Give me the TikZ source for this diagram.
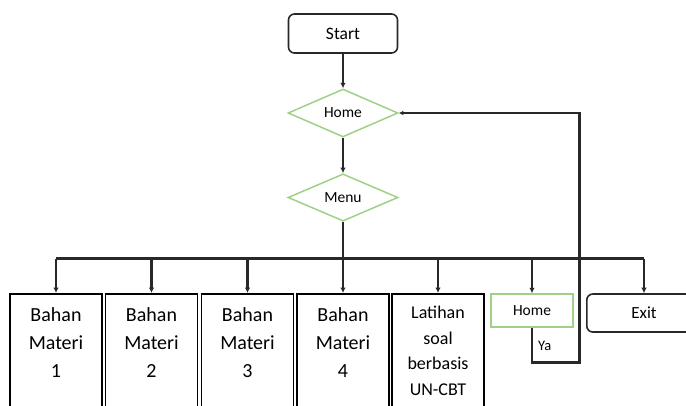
\documentclass[tikz,border=0pt]{standalone}
\usepackage{fontspec}
\setmainfont{Carlito}
\usetikzlibrary{shapes.geometric,arrows.meta}
\definecolor{ln}{RGB}{40,40,40}
\definecolor{gr}{RGB}{160,208,135}
\begin{document}
\begin{tikzpicture}[x=1pt,y=-1pt,
  conn/.style={draw=ln,line width=2.1pt,-{Latex[length=5.5pt,width=5.5pt]}},
  plain/.style={draw=ln,line width=2.1pt},
  term/.style={draw=ln,line width=1.6pt,rounded corners=6pt,minimum width=109pt,minimum height=39pt,inner sep=0pt,font=\fontsize{17.5}{19}\selectfont},
  dec/.style={diamond,draw=gr,line width=1.5pt,minimum width=110pt,minimum height=47pt,inner sep=0pt,font=\fontsize{15.5}{17}\selectfont},
  box/.style={draw=black,line width=1.6pt,minimum width=92pt,minimum height=140pt,inner sep=0pt,anchor=north},
  btxt/.style={align=center,inner sep=0pt,anchor=north,font=\fontsize{20}{28}\selectfont},
  ltxt/.style={align=center,inner sep=0pt,anchor=north,font=\fontsize{18}{25.5}\selectfont},
]
\useasboundingbox (0,0) rectangle (686,405);
\clip (0,0) rectangle (686,405);

\node[term] (start) at (343,33.5) {Start};
\node[dec] (home) at (343,113) {Home};
\node[dec] (menu) at (343,197.5) {Menu};

\node[box] (b1) at (56,293) {};
\node[box] (b2) at (151.5,293) {};
\node[box] (b3) at (247.5,293) {};
\node[box] (b4) at (343,293) {};
\node[box] (b5) at (438,293) {};
\node[draw=gr,line width=1.5pt,minimum width=82pt,minimum height=33pt,inner sep=0pt,font=\fontsize{15.5}{17}\selectfont,text depth=0pt] (h2) at (532,310.5) {Home};
\node[draw=ln,line width=1.6pt,rounded corners=6pt,minimum width=120pt,minimum height=38pt,inner sep=0pt,anchor=west] (exit) at (586,313) {};
\node[font=\fontsize{17}{19}\selectfont] (exittxt) at (644,313) {Exit};

\node[btxt] at ([yshift=-14.5pt]b1.north) {Bahan\\Materi\\1};
\node[btxt] at ([yshift=-14.5pt]b2.north) {Bahan\\Materi\\2};
\node[btxt] at ([yshift=-14.5pt]b3.north) {Bahan\\Materi\\3};
\node[btxt] at ([yshift=-14.5pt]b4.north) {Bahan\\Materi\\4};
\node[ltxt] at ([yshift=-13pt]b5.north) {Latihan\\soal\\berbasis\\UN-CBT};

\coordinate (bus) at (343,258.5);
\coordinate (ya1) at (532,362.5);
\coordinate (ya2) at (579.5,362.5);
\coordinate (ya3) at (579.5,113);

\draw[conn] (start) -- (home);
\draw[conn] (home) -- (menu);
\draw[plain] (menu.south) -- (bus);
\draw[plain] (56,258.5) -- (644,258.5);
\draw[conn] (56,258.5) -- (b1.north);
\draw[conn] (151.5,258.5) -- (b2.north);
\draw[conn] (247.5,258.5) -- (b3.north);
\draw[conn] (bus) -- (b4.north);
\draw[conn] (438,258.5) -- (b5.north);
\draw[conn] (532,258.5) -- (h2.north);
\draw[conn] (644,258.5) -- (exit.north -| exittxt);
\draw[plain,line join=miter] (h2.south) -- (ya1) -- (ya2) -- (ya3) -- ([xshift=4pt]home.east);
\draw[draw=ln,line width=2.1pt,-{Latex[length=4.5pt,width=4.5pt]}] ([xshift=4pt]home.east) -- (home.east);
\node[font=\fontsize{14.5}{16}\selectfont,anchor=west,inner sep=0pt] (ya) at (538,346) {Ya};
\end{tikzpicture}
\end{document}
